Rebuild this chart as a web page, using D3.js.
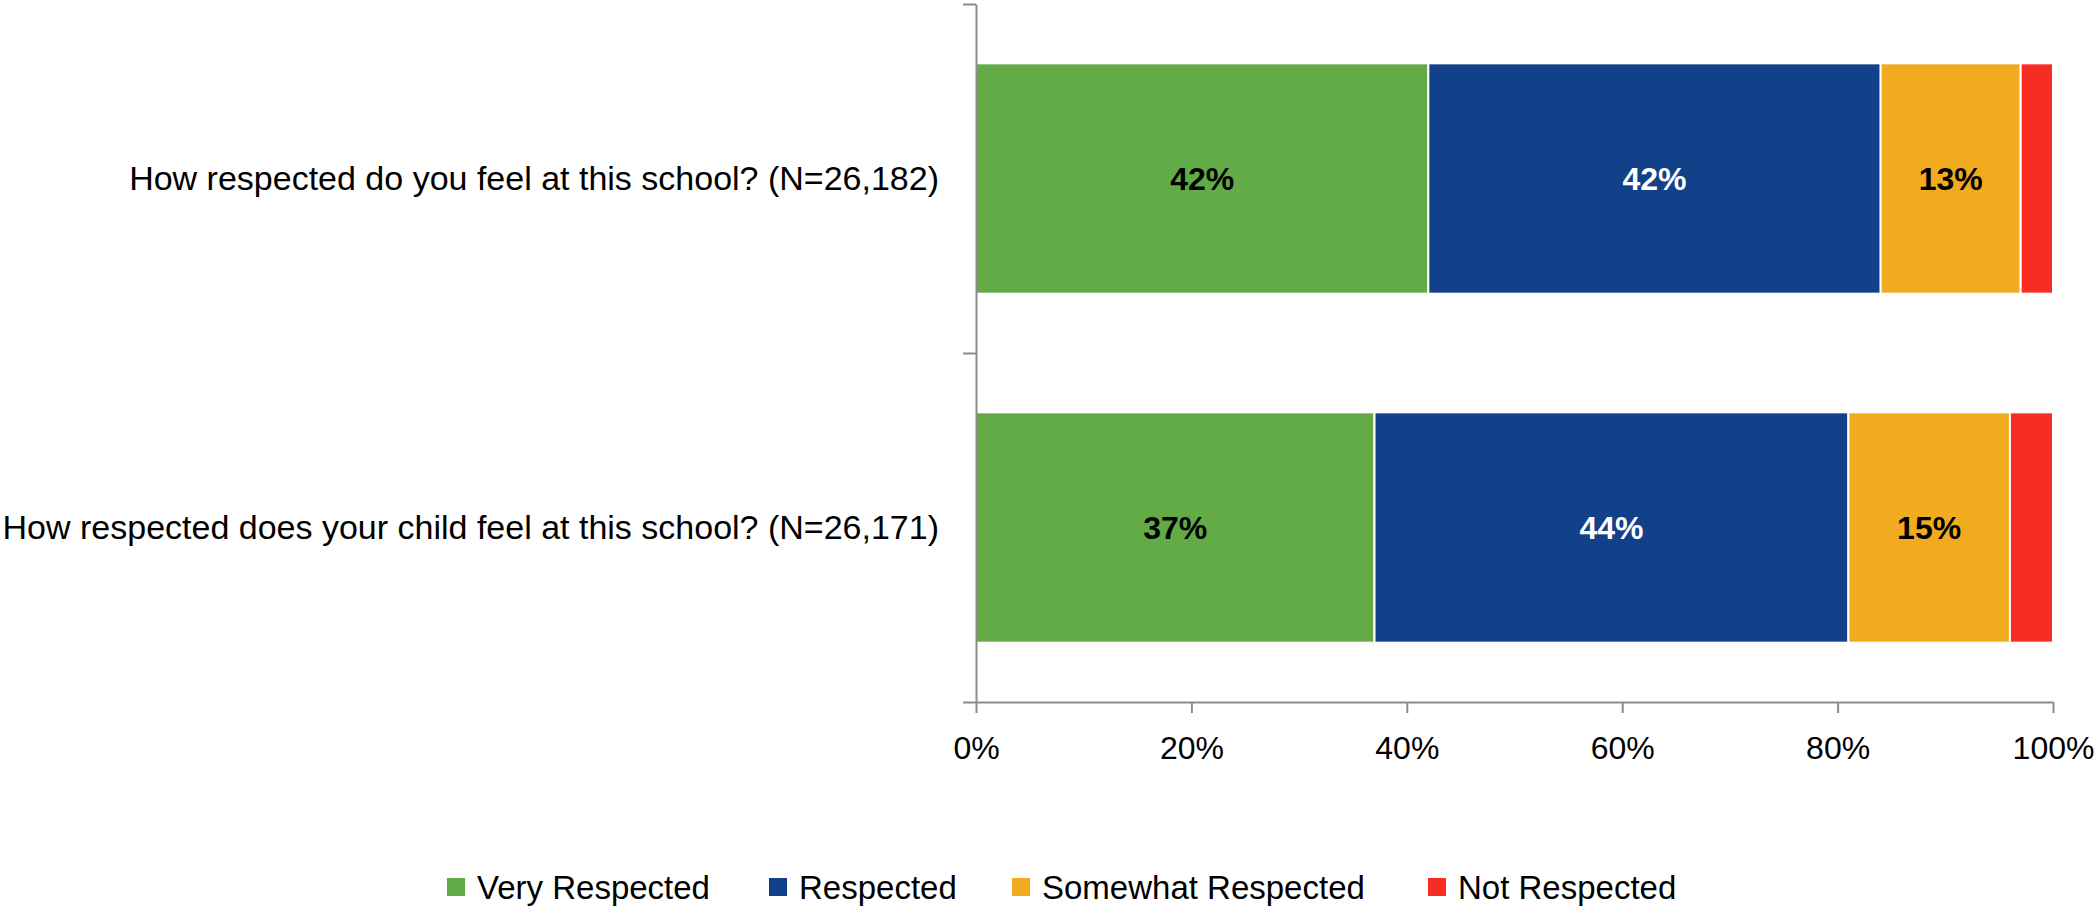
<!DOCTYPE html>
<html>
<head>
<meta charset="utf-8">
<script src="https://cdn.jsdelivr.net/npm/d3@7"></script>
<style>
  body { margin: 0; background: #fff; }
  text { font-family: "Liberation Sans", Arial, sans-serif; }
</style>
</head>
<body>
<script>
const width = 2094, height = 907;

// data
const questions = [
  "How respected do you feel at this school? (N=26,182)",
  "How respected does your child feel at this school? (N=26,171)"
];
const series = ["Very Respected", "Respected", "Somewhat Respected", "Not Respected"];
const veryRespected = [42, 37];
const respected = [42, 44];
const somewhatRespected = [13, 15];
const notRespected = [3, 4];
const xTicks = [0, 20, 40, 60, 80, 100];

const colors = ["#62ab46", "#12418a", "#f0ab1f", "#f72c22"];
const labelColors = ["#000", "#fff", "#000", "#000"];

const rows = questions.map((q, i) => ({
  q,
  vals: [veryRespected[i], respected[i], somewhatRespected[i], notRespected[i]]
}));

const x = d3.scaleLinear().domain([0, 100]).range([976, 2053]);
const y = d3.scaleBand().domain(questions).range([4, 702])
    .paddingInner(0.34).paddingOuter(0.17);

const svg = d3.select("body").append("svg")
    .attr("width", width)
    .attr("height", height);

// bars
const stack = d3.stack().keys([0, 1, 2, 3]).value((d, k) => d.vals[k]);
const layers = stack(rows);

svg.append("g")
  .selectAll("g")
  .data(layers)
  .join("g")
    .attr("fill", (d, i) => colors[i])
  .selectAll("rect")
  .data(d => d)
  .join("rect")
    .attr("x", d => x(d[0]))
    .attr("y", d => y(d.data.q))
    .attr("width", d => x(d[1]) - x(d[0]))
    .attr("height", y.bandwidth())
    .attr("stroke", "#fff")
    .attr("stroke-width", 2);

// value labels (only the wider segments get one)
svg.append("g")
  .selectAll("g")
  .data(layers)
  .join("g")
    .attr("fill", (d, i) => labelColors[i])
  .selectAll("text")
  .data(d => d.filter(s => s[1] - s[0] >= 10))
  .join("text")
    .attr("x", d => (x(d[0]) + x(d[1])) / 2)
    .attr("y", d => y(d.data.q) + y.bandwidth() / 2)
    .attr("text-anchor", "middle")
    .attr("dy", "0.35em")
    .attr("font-weight", "bold")
    .attr("font-size", 32)
    .text(d => (d[1] - d[0]) + "%");

// x axis
const xAxis = svg.append("g")
    .attr("transform", "translate(0,702)")
    .call(d3.axisBottom(x).tickValues(xTicks).tickFormat(d => d + "%").tickSize(11).tickPadding(23).tickSizeOuter(0));

// y axis: ticks at the band edges
const yEdges = d3.scaleLinear().domain([0, questions.length]).range([4, 702]);
const yAxis = svg.append("g")
    .attr("transform", "translate(976,0)")
    .call(d3.axisLeft(yEdges).tickValues(d3.range(questions.length + 1)).tickFormat("").tickSize(13).tickSizeOuter(0));

[xAxis, yAxis].forEach(a => {
  a.select(".domain").attr("stroke", "#8c8c8c").attr("stroke-width", 2);
  a.selectAll(".tick line").attr("stroke", "#8c8c8c").attr("stroke-width", 2);
});
xAxis.selectAll(".tick text")
    .attr("fill", "#000")
    .attr("font-size", 32)
    .style("font-family", "'Liberation Sans', Arial, sans-serif");

// category labels
svg.append("g")
  .selectAll("text")
  .data(questions)
  .join("text")
    .attr("x", 939)
    .attr("y", d => y(d) + y.bandwidth() / 2)
    .attr("text-anchor", "end")
    .attr("dy", "0.35em")
    .attr("font-size", 34)
    .text(d => d);

// legend
const legendX = [447, 769, 1012, 1428];
const legend = svg.append("g")
  .selectAll("g")
  .data(series)
  .join("g")
    .attr("transform", (d, i) => `translate(${legendX[i]},878)`);
legend.append("rect")
    .attr("width", 18)
    .attr("height", 18)
    .attr("fill", (d, i) => colors[i]);
legend.append("text")
    .attr("x", 30)
    .attr("y", 9)
    .attr("dy", "0.35em")
    .attr("font-size", 33)
    .text(d => d);
</script>
</body>
</html>
